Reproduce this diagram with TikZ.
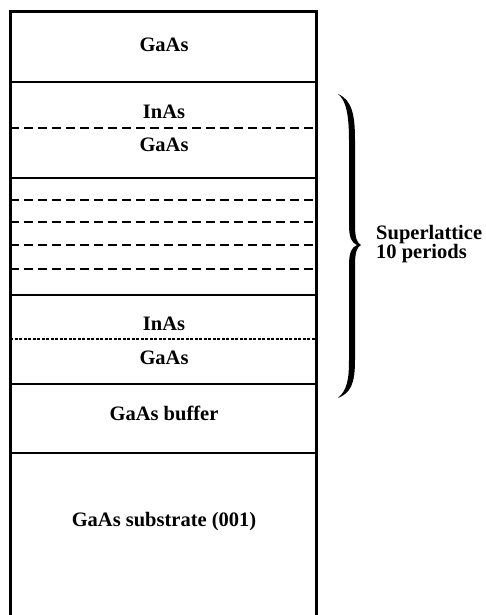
\documentclass[tikz,border=0pt]{standalone}
\usepackage{fontspec}
\setmainfont{Liberation Serif}
\begin{document}
\begin{tikzpicture}[x=1pt,y=-1pt,
  lbl/.style={anchor=base,inner sep=0pt,font=\fontsize{20.5}{19}\selectfont\bfseries},
  solidline/.style={line width=2pt},
  dashline/.style={line width=2pt,dash pattern=on 9pt off 5pt},
  dotline/.style={line width=1.6pt,dash pattern=on 3pt off 1.5pt}]
\useasboundingbox (0,0) rectangle (486,615);
% outer box (open at bottom)
\draw[line width=3pt] (10,615) -- (10,12) -- (316,12) -- (316,615);
% layer boundaries
\draw[solidline] (10,82) -- (316,82);
\draw[dashline] (10,128) -- (316,128);
\draw[solidline] (10,178) -- (316,178);
\draw[dashline] (10,200) -- (316,200);
\draw[dashline] (10,222) -- (316,222);
\draw[dashline] (10,245) -- (316,245);
\draw[dashline] (10,269) -- (316,269);
\draw[solidline] (10,295) -- (316,295);
\draw[dotline] (10,339) -- (316,339);
\draw[solidline] (10,384) -- (316,384);
\draw[solidline] (10,453) -- (316,453);
% labels
\node[lbl] (g1) at (164,52) {GaAs};
\node[lbl] (i1) at (164,118) {InAs};
\node[lbl] (g2) at (164,151) {GaAs};
\node[lbl] (i2) at (164,330) {InAs};
\node[lbl] (g3) at (164,364) {GaAs};
\node[lbl] (buf) at (164,420) {GaAs buffer};
\node[lbl] (sub) at (164,526) {GaAs substrate (001)};
% brace
\fill (338,94) .. controls (352,100) and (355,115) .. (355,140) -- (355,225)
  .. controls (355,238) and (357,243) .. (361,245)
  .. controls (357,247) and (355,252) .. (355,265) -- (355,360)
  .. controls (355,385) and (350,393) .. (338,398)
  .. controls (347,390) and (349,380) .. (349,360) -- (349,265)
  .. controls (349,252) and (352,247) .. (357,245)
  .. controls (352,243) and (349,238) .. (349,225) -- (349,140)
  .. controls (349,115) and (346,100) .. (338,94) -- cycle;
\node[lbl,anchor=base west,align=left] (sl) at (376,258) {Superlattice\\10 periods};
\end{tikzpicture}
\end{document}
